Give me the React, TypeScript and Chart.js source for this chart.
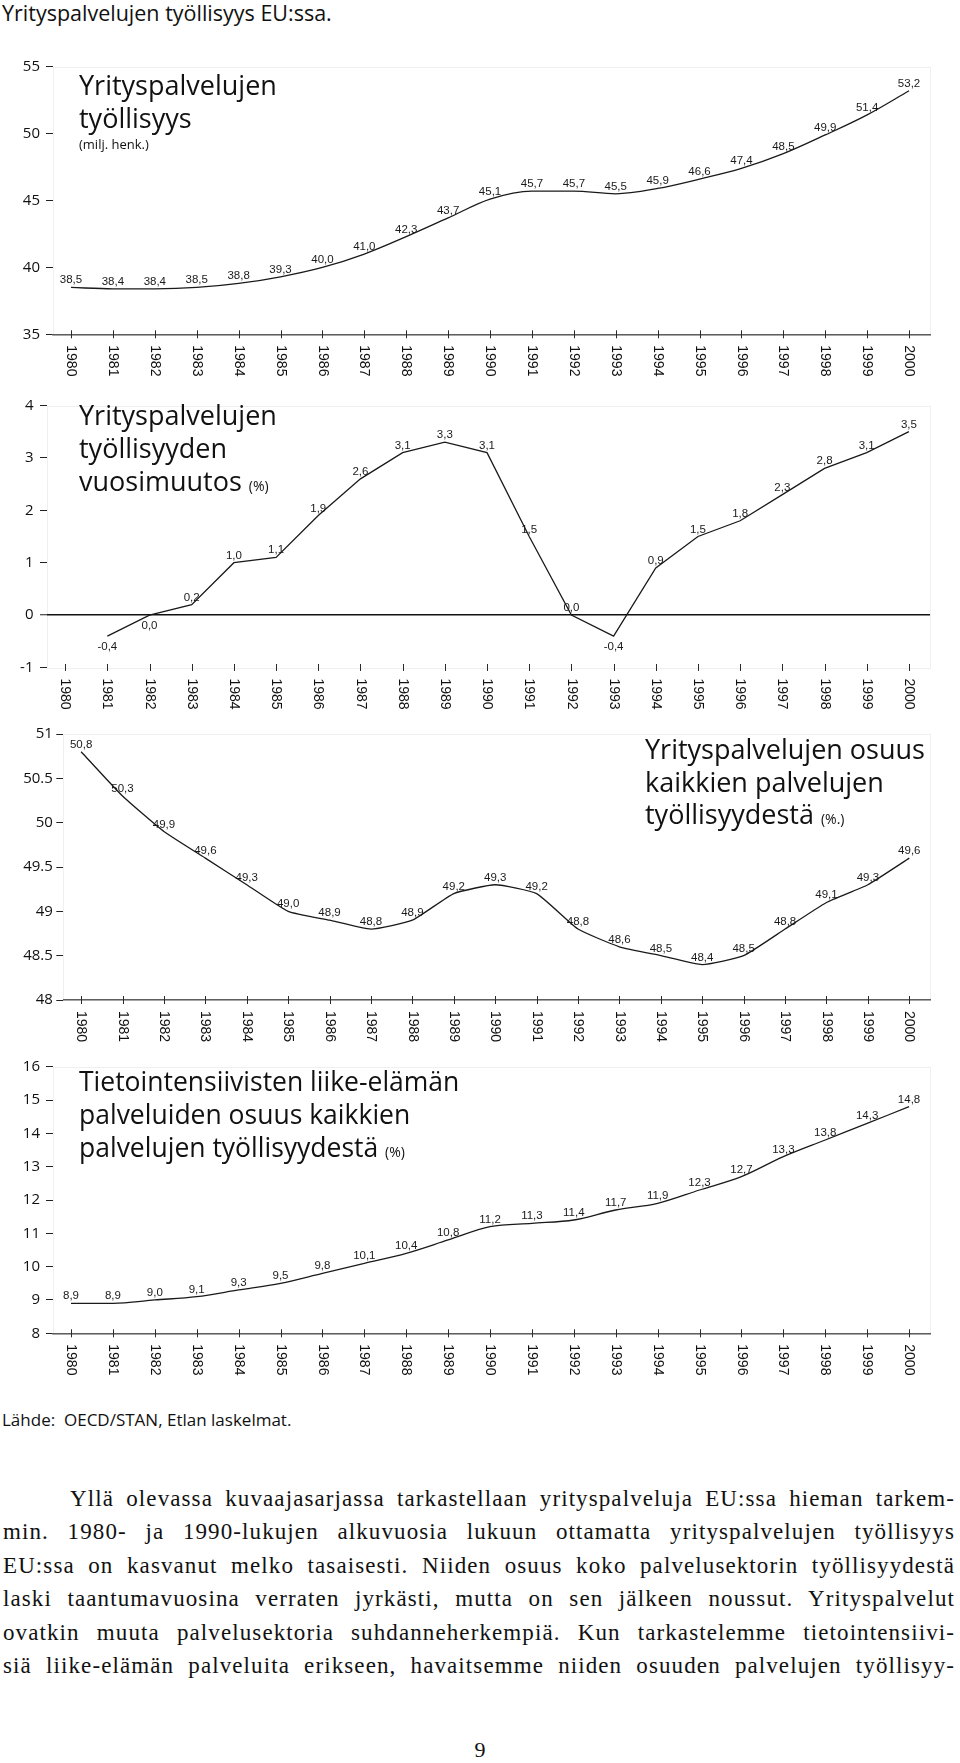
import React, { useEffect, useRef } from "react";
import { Chart, registerables } from "chart.js";

Chart.register(...registerables);

// ---------- data ----------
const YEARS = [
  1980, 1981, 1982, 1983, 1984, 1985, 1986, 1987, 1988, 1989, 1990,
  1991, 1992, 1993, 1994, 1995, 1996, 1997, 1998, 1999, 2000,
];

// Yrityspalvelujen työllisyys (milj. henk.)
const EMPLOYMENT_MILLIONS = [
  38.5, 38.4, 38.4, 38.5, 38.8, 39.3, 40.0, 41.0, 42.3, 43.7, 45.1,
  45.7, 45.7, 45.5, 45.9, 46.6, 47.4, 48.5, 49.9, 51.4, 53.2,
];

// Yrityspalvelujen työllisyyden vuosimuutos (%)
const ANNUAL_CHANGE_PCT: (number | null)[] = [
  null, -0.4, 0.0, 0.2, 1.0, 1.1, 1.9, 2.6, 3.1, 3.3, 3.1,
  1.5, 0.0, -0.4, 0.9, 1.5, 1.8, 2.3, 2.8, 3.1, 3.5,
];

// Yrityspalvelujen osuus kaikkien palvelujen työllisyydestä (%)
const SHARE_OF_SERVICES_PCT = [
  50.8, 50.3, 49.9, 49.6, 49.3, 49.0, 48.9, 48.8, 48.9, 49.2, 49.3,
  49.2, 48.8, 48.6, 48.5, 48.4, 48.5, 48.8, 49.1, 49.3, 49.6,
];

// Tietointensiivisten liike-elämän palveluiden osuus (%)
const KIBS_SHARE_PCT = [
  8.9, 8.9, 9.0, 9.1, 9.3, 9.5, 9.8, 10.1, 10.4, 10.8, 11.2,
  11.3, 11.4, 11.7, 11.9, 12.3, 12.7, 13.3, 13.8, 14.3, 14.8,
];

const EMPLOYMENT_TICKS = [35, 40, 45, 50, 55];
const CHANGE_TICKS = [-1, 0, 1, 2, 3, 4];
const SHARE_TICKS = [48, 48.5, 49, 49.5, 50, 50.5, 51];
const KIBS_TICKS = [8, 9, 10, 11, 12, 13, 14, 15, 16];

const X_MIN = 1979.57;
const X_MAX = 2000.5;

const fmt = (v: number) => v.toFixed(1).replace(".", ",");

type PanelCfg = {
  top: number;
  height: number;
  areaLeft: number;
  areaTop: number;
  areaBottom: number;
  values: (number | null)[];
  ticks: number[];
  tension: number;
  monotone: boolean;
  zeroLine: boolean;
  labelPad: number;
};

function makeDecor(cfg: PanelCfg) {
  return {
    id: "decor",
    beforeDraw(chart: any) {
      const { ctx, chartArea: a } = chart;
      ctx.save();
      ctx.strokeStyle = "#efefef";
      ctx.lineWidth = 1;
      ctx.strokeRect(
        Math.round(a.left) + 0.5,
        Math.round(a.top) + 0.5,
        Math.round(a.right - a.left),
        Math.round(a.bottom - a.top)
      );
      ctx.restore();
    },
    afterDraw(chart: any) {
      const { ctx, chartArea: a } = chart;
      const xs = chart.scales.x;
      const ys = chart.scales.y;
      const axisY = a.bottom;
      ctx.save();
      // year tick marks
      ctx.strokeStyle = "#2a2a2a";
      ctx.lineWidth = 1;
      const half = cfg.zeroLine ? 3.5 : 4;
      YEARS.forEach((yr) => {
        const px = Math.round(xs.getPixelForValue(yr)) + 0.5;
        ctx.beginPath();
        ctx.moveTo(px, axisY - half);
        ctx.lineTo(px, axisY + half);
        ctx.stroke();
      });
      // rotated year labels (reading top to bottom)
      ctx.fillStyle = "#111";
      ctx.font = '14px "Liberation Sans", Arial, sans-serif';
      ctx.textAlign = "left";
      ctx.textBaseline = "middle";
      YEARS.forEach((yr) => {
        ctx.save();
        ctx.translate(xs.getPixelForValue(yr), axisY + 11);
        ctx.rotate(Math.PI / 2);
        ctx.fillText(String(yr), 0, 0);
        ctx.restore();
      });
      // value labels
      ctx.fillStyle = "#1a1a1a";
      ctx.font = '11.5px "Liberation Sans", Arial, sans-serif';
      ctx.textAlign = "center";
      cfg.values.forEach((v, i) => {
        if (v === null || v === undefined) return;
        const prev = i > 0 ? cfg.values[i - 1] : null;
        const below = v < 0 || (v === 0 && prev !== null && prev !== undefined && prev < 0);
        const px = xs.getPixelForValue(YEARS[i]);
        const py = ys.getPixelForValue(v);
        if (below) {
          ctx.textBaseline = "top";
          ctx.fillText(fmt(v), px, py + 5);
        } else {
          ctx.textBaseline = "alphabetic";
          ctx.fillText(fmt(v), px, py - 4);
        }
      });
      ctx.restore();
    },
  };
}

function Panel({ cfg }: { cfg: PanelCfg }) {
  const ref = useRef<HTMLCanvasElement | null>(null);
  useEffect(() => {
    const canvas = ref.current;
    if (!canvas) return;
    const tickVals = cfg.ticks;
    const chart = new Chart(canvas, {
      type: "line",
      data: {
        datasets: [
          {
            data: YEARS.map((yr, i) => ({ x: yr, y: cfg.values[i] as any })),
            borderColor: "#1a1a1a",
            borderWidth: 1.3,
            pointRadius: 0,
            tension: cfg.tension,
            cubicInterpolationMode: cfg.monotone ? "monotone" : "default",
            fill: false,
            spanGaps: false,
          } as any,
        ],
      },
      options: {
        responsive: false,
        animation: false,
        devicePixelRatio: 1,
        events: [],
        layout: {
          padding: { top: cfg.areaTop - cfg.top, right: 30, left: 0, bottom: 0 },
        },
        plugins: {
          legend: { display: false },
          tooltip: { enabled: false },
          title: { display: false },
        },
        scales: {
          x: {
            type: "linear",
            min: X_MIN,
            max: X_MAX,
            ticks: { display: false },
            grid: { display: false, drawTicks: false },
            border: { display: !cfg.zeroLine, color: "#5e5e5e", width: 1.5 },
            afterFit: (s: any) => {
              s.height = cfg.top + cfg.height - cfg.areaBottom;
            },
          },
          y: {
            type: "linear",
            min: tickVals[0],
            max: tickVals[tickVals.length - 1],
            afterBuildTicks: (s: any) => {
              s.ticks = tickVals.map((v) => ({ value: v }));
            },
            ticks: {
              autoSkip: false,
              padding: cfg.labelPad,
              color: "#111",
              font: { family: '"Open Sans", sans-serif', size: 15 },
              callback: (v: any) => String(v),
            },
            border: { display: false },
            grid: {
              drawOnChartArea: cfg.zeroLine,
              drawTicks: true,
              tickLength: 7,
              tickWidth: 1,
              tickColor: "#222",
              color: (c: any) =>
                c.tick && c.tick.value === 0 ? "#111" : "rgba(0,0,0,0)",
              lineWidth: (c: any) => (c.tick && c.tick.value === 0 ? 1.5 : 1),
            },
            afterFit: (s: any) => {
              s.width = cfg.areaLeft;
            },
          },
        },
      } as any,
      plugins: [makeDecor(cfg)],
    });
    return () => chart.destroy();
  }, []);
  return (
    <canvas
      ref={ref}
      width={960}
      height={cfg.height}
      style={{ position: "absolute", left: 0, top: cfg.top, width: 960, height: cfg.height }}
    />
  );
}

const P1: PanelCfg = {
  top: 40, height: 350, areaLeft: 53, areaTop: 66.7, areaBottom: 334.3,
  values: EMPLOYMENT_MILLIONS, ticks: EMPLOYMENT_TICKS, tension: 0.4, monotone: true,
  zeroLine: false, labelPad: 6,
};
const P2: PanelCfg = {
  top: 390, height: 330, areaLeft: 47, areaTop: 401.7, areaBottom: 667.5,
  values: ANNUAL_CHANGE_PCT, ticks: CHANGE_TICKS, tension: 0, monotone: false,
  zeroLine: true, labelPad: 6.5,
};
const P3: PanelCfg = {
  top: 720, height: 330, areaLeft: 63.3, areaTop: 734, areaBottom: 1000,
  values: SHARE_OF_SERVICES_PCT, ticks: SHARE_TICKS, tension: 0.15, monotone: false,
  zeroLine: false, labelPad: 3.5,
};
const P4: PanelCfg = {
  top: 1050, height: 340, areaLeft: 53, areaTop: 1066.7, areaBottom: 1333.3,
  values: KIBS_SHARE_PCT, ticks: KIBS_TICKS, tension: 0.4, monotone: true,
  zeroLine: false, labelPad: 6,
};

const sans = '"Open Sans", sans-serif';
const serif = '"Liberation Serif", "Times New Roman", serif';

const titleStyle = (left: number, top: number): React.CSSProperties => ({
  position: "absolute",
  left,
  top,
  fontFamily: sans,
  fontSize: 27,
  lineHeight: "33px",
  color: "#111",
  whiteSpace: "nowrap",
});

const PARAGRAPH_LINES = [
  "Yllä olevassa kuvaajasarjassa tarkastellaan yrityspalveluja EU:ssa hieman tarkem-",
  "min. 1980- ja 1990-lukujen alkuvuosia lukuun ottamatta yrityspalvelujen työllisyys",
  "EU:ssa on kasvanut melko tasaisesti. Niiden osuus koko palvelusektorin työllisyydestä",
  "laski taantumavuosina verraten jyrkästi, mutta on sen jälkeen noussut. Yrityspalvelut",
  "ovatkin muuta palvelusektoria suhdanneherkempiä. Kun tarkastelemme tietointensiivi-",
  "siä liike-elämän palveluita erikseen, havaitsemme niiden osuuden palvelujen työllisyy-",
];

export default function App() {
  return (
    <div style={{ position: "relative", width: 960, height: 1763, background: "#fff", overflow: "hidden" }}>
      <style>{"body{margin:0;background:#fff}"}</style>
      <div
        style={{
          position: "absolute", left: 2, top: 0.5, fontFamily: sans, fontSize: 21.5,
          lineHeight: "24px", color: "#111", whiteSpace: "nowrap",
        }}
      >
        Yrityspalvelujen työllisyys EU:ssa.
      </div>

      <Panel cfg={P1} />
      <Panel cfg={P2} />
      <Panel cfg={P3} />
      <Panel cfg={P4} />

      <div style={titleStyle(79, 67.5)}>
        Yrityspalvelujen
        <br />
        työllisyys
      </div>
      <div
        style={{
          position: "absolute", left: 79, top: 136, fontFamily: sans, fontSize: 13,
          lineHeight: "16px", color: "#111", whiteSpace: "nowrap",
        }}
      >
        (milj. henk.)
      </div>

      <div style={titleStyle(79, 398)}>
        Yrityspalvelujen
        <br />
        työllisyyden
        <br />
        vuosimuutos <span style={{ fontSize: 14 }}>(%)</span>
      </div>

      <div style={{ ...titleStyle(645, 733), lineHeight: "32.5px" }}>
        Yrityspalvelujen osuus
        <br />
        kaikkien palvelujen
        <br />
        työllisyydestä <span style={{ fontSize: 14 }}>(%.)</span>
      </div>

      <div style={{ ...titleStyle(79, 1064.7), lineHeight: "33.2px", fontSize: 26.5 }}>
        Tietointensiivisten liike-elämän
        <br />
        palveluiden osuus kaikkien
        <br />
        palvelujen työllisyydestä <span style={{ fontSize: 14 }}>(%)</span>
      </div>

      <div
        style={{
          position: "absolute", left: 2, top: 1409.5, fontFamily: sans, fontSize: 17,
          lineHeight: "20px", color: "#111", whiteSpace: "pre",
        }}
      >
        {"Lähde:  OECD/STAN, Etlan laskelmat."}
      </div>

      <div style={{ position: "absolute", left: 3, top: 1481.8, width: 952 }}>
        {PARAGRAPH_LINES.map((line, i) => (
          <div
            key={i}
            style={{
              fontFamily: serif,
              fontSize: 23,
              letterSpacing: "1.1px",
              lineHeight: "33.5px",
              color: "#111",
              textAlign: "justify",
              textAlignLast: "justify",
              whiteSpace: "nowrap",
              paddingLeft: i === 0 ? 67 : 0,
            }}
          >
            {line}
          </div>
        ))}
      </div>

      <div
        style={{
          position: "absolute", left: 0, width: 960, top: 1733, textAlign: "center",
          fontFamily: serif, fontSize: 22, lineHeight: "33.5px", color: "#111",
        }}
      >
        9
      </div>
    </div>
  );
}
